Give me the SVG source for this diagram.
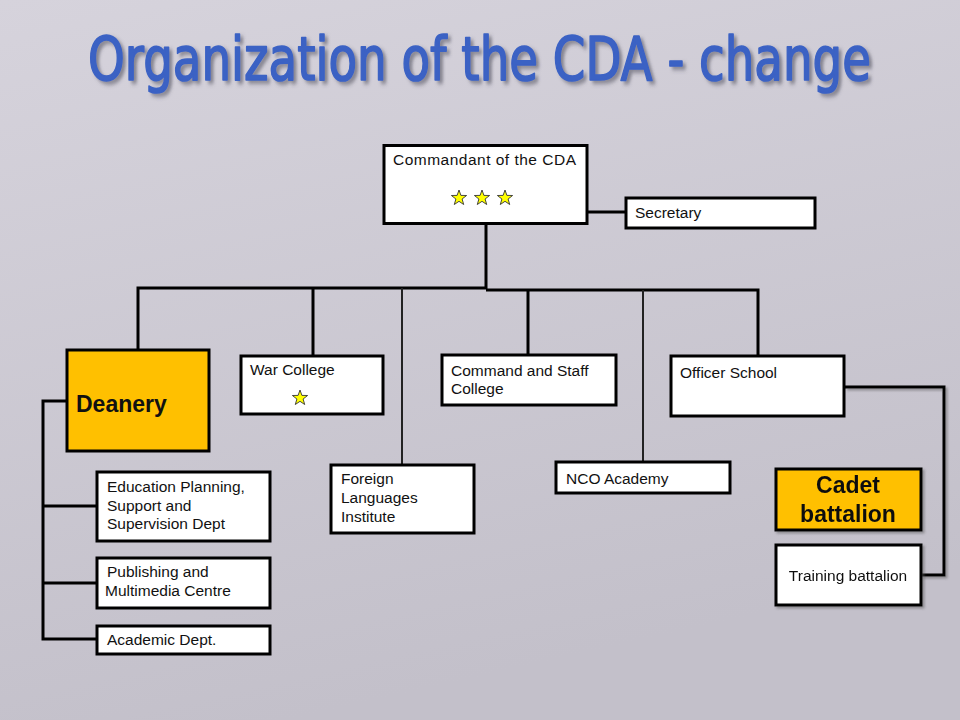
<svg xmlns="http://www.w3.org/2000/svg" width="960" height="720" viewBox="0 0 960 720">
<defs>
  <linearGradient id="bg" x1="0" y1="0" x2="0.3" y2="1">
    <stop offset="0" stop-color="#d6d3dc"/>
    <stop offset="1" stop-color="#c3c0ca"/>
  </linearGradient>
  <filter id="tshadow" x="-5%" y="-20%" width="110%" height="150%">
    <feDropShadow dx="3" dy="2.4" stdDeviation="1.6" flood-color="#4a4a55" flood-opacity="0.55"/>
  </filter>
  <filter id="bshadow" x="-10%" y="-10%" width="130%" height="130%">
    <feDropShadow dx="2" dy="2" stdDeviation="1" flood-color="#555" flood-opacity="0.5"/>
  </filter>
  <polygon id="star" points="0,-8 1.9,-2.6 7.6,-2.5 3.1,1 4.7,6.5 0,3.3 -4.7,6.5 -3.1,1 -7.6,-2.5 -1.9,-2.6" fill="#ffff00" stroke="#333" stroke-width="0.9"/>
  <style>
    .box { fill: #ffffff; stroke: #000; stroke-width: 3; }
    .gold { fill: #ffc000; stroke: #000; stroke-width: 3; }
    .t { font-family: "Liberation Sans", Arial, sans-serif; font-size: 15.5px; fill: #111; }
    .b { font-family: "Liberation Sans", Arial, sans-serif; font-weight: bold; font-size: 23px; fill: #111; }
    .ln { fill: none; stroke: #000; stroke-width: 3; }
    .thin { fill: none; stroke: #222; stroke-width: 2; }
    .title { font-family: "DejaVu Sans", Verdana, sans-serif; font-size: 47px; fill: #3b62c4; stroke: #3b62c4; stroke-width: 1.3; stroke-linejoin: round; }
  </style>
</defs>
<rect width="960" height="720" fill="url(#bg)"/>
<g id="title">
  <text class="title" x="0" y="0" transform="translate(88,80) scale(1,1.28)" textLength="783" lengthAdjust="spacingAndGlyphs" filter="url(#tshadow)">Organization of the CDA - change</text>
</g>

<g id="connectors">
  <path class="ln" d="M588,212 H625"/>
  <path class="ln" d="M486,225 V289"/>
  <path class="ln" d="M486,288 H138 V349"/>
  <path class="ln" d="M486,290 H758 V355"/>
  <path class="ln" d="M313,288 V355"/>
  <path class="ln" d="M528,290 V354"/>
  <path class="thin" d="M402,288 V464"/>
  <path class="thin" d="M643,290 V461"/>
  <path class="ln" d="M66,401 H43 V639 H96"/>
  <path class="ln" d="M43,506 H96"/>
  <path class="ln" d="M43,583 H96"/>
  <path class="ln" d="M845,387 H944 V575 H921" filter="url(#bshadow)"/>
  <path class="ln" d="M921,500 H944" filter="url(#bshadow)"/>
</g>

<g id="commandant">
  <rect class="box" x="384" y="145.5" width="203" height="78"/>
  <text class="t" x="393" y="165" textLength="183">Commandant of the CDA</text>
  <use href="#star" x="459" y="198"/>
  <use href="#star" x="482" y="198"/>
  <use href="#star" x="505" y="198"/>
</g>
<g id="secretary">
  <rect class="box" x="626" y="198" width="189" height="30"/>
  <text class="t" x="635" y="218">Secretary</text>
</g>
<g id="deanery">
  <rect class="gold" x="67" y="350" width="142" height="101"/>
  <text class="b" x="76" y="412">Deanery</text>
</g>
<g id="war-college">
  <rect class="box" x="241" y="356" width="142" height="58"/>
  <text class="t" x="250" y="375">War College</text>
  <use href="#star" x="300" y="398"/>
</g>
<g id="foreign-languages">
  <rect class="box" x="331" y="465" width="143" height="68"/>
  <text class="t" x="341" y="484">Foreign</text>
  <text class="t" x="341" y="503">Languages</text>
  <text class="t" x="341" y="522">Institute</text>
</g>
<g id="command-staff">
  <rect class="box" x="442" y="355" width="174" height="50"/>
  <text class="t" x="451" y="376">Command and Staff</text>
  <text class="t" x="451" y="394">College</text>
</g>
<g id="nco-academy">
  <rect class="box" x="556" y="462" width="174" height="31"/>
  <text class="t" x="566" y="484">NCO Academy</text>
</g>
<g id="officer-school">
  <rect class="box" x="671" y="356" width="173" height="60"/>
  <text class="t" x="680" y="378">Officer School</text>
</g>
<g id="cadet-battalion" filter="url(#bshadow)">
  <rect class="gold" x="776" y="469" width="145" height="61"/>
  <text class="b" x="848" y="493" text-anchor="middle">Cadet</text>
  <text class="b" x="848" y="522" text-anchor="middle">battalion</text>
</g>
<g id="training-battalion" filter="url(#bshadow)">
  <rect class="box" x="776" y="545" width="145" height="60"/>
  <text class="t" x="848" y="581" text-anchor="middle">Training battalion</text>
</g>
<g id="education-planning">
  <rect class="box" x="97" y="472" width="173" height="69"/>
  <text class="t" x="107" y="492">Education Planning,</text>
  <text class="t" x="107" y="511">Support and</text>
  <text class="t" x="107" y="529">Supervision Dept</text>
</g>
<g id="publishing">
  <rect class="box" x="97" y="558" width="173" height="50"/>
  <text class="t" x="107" y="577">Publishing and</text>
  <text class="t" x="105" y="596">Multimedia Centre</text>
</g>
<g id="academic-dept">
  <rect class="box" x="97" y="626" width="173" height="28"/>
  <text class="t" x="107" y="645">Academic Dept.</text>
</g>
</svg>
